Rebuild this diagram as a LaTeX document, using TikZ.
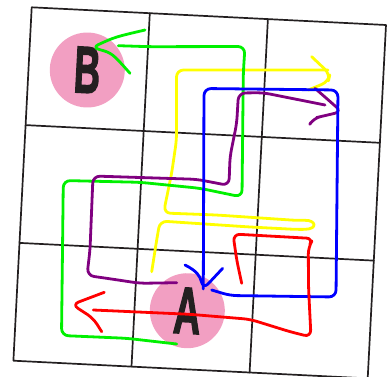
\documentclass[tikz,border=0pt]{standalone}
\usepackage{fontspec}
\usepackage{graphicx}
\newfontfamily\markfont[BoldFeatures={FakeBold=2.5}]{Liberation Sans}
\definecolor{inkblack}{HTML}{231F20}
\definecolor{spotpink}{HTML}{F29FC2}
\definecolor{routegreen}{HTML}{00F000}
\definecolor{routeyellow}{HTML}{FFFF00}
\definecolor{routeblue}{HTML}{0000FF}
\definecolor{routepurple}{HTML}{800080}
\definecolor{routered}{HTML}{FF0000}
\tikzset{
  cellline/.style={draw=inkblack, line width=1.7pt, line cap=round, line join=round},
  route/.style={line width=2.8pt, line cap=round, line join=round, rounded corners=7pt},
  spot/.style={circle, fill=spotpink, minimum size=75pt, inner sep=0pt, text=inkblack,
    font=\markfont\bfseries\fontsize{66}{66}\selectfont},
}

\begin{document}
\begin{tikzpicture}[x=1pt, y=-1pt]
\useasboundingbox (0,0) rectangle (392,376);
\clip (0,0) rectangle (392,376);
% the tilted 3x3 board
\begin{scope}[shift={(31.7,7.3)}, x={(118.1pt,-5.9pt)}, y={(-6.1pt,-117.8pt)}]
  \draw[cellline] (0,0) -- (3,0) -- (3,3) -- (0,3) -- cycle;
  \foreach \k in {1,2} {
    \draw[cellline] (\k,0) -- (\k,3);
    \draw[cellline] (0,\k) -- (3,\k);
  }
\end{scope}
% start and goal
\node[spot, rotate=-3] (spotB) at (87.3,70) {\scalebox{0.55}[1]{B}};
\node[spot, rotate=-3] (spotA) at (187.3,310.7) {\scalebox{0.57}[1]{A}};
% yellow route
\draw[route, routeyellow] (151.7,271.7) -- (157,238) -- (160,221) -- (250,227)
  -- (298,229.5) .. controls (318,229) and (316,220) .. (298,220.5)
  -- (216.7,215) -- (163.5,213) -- (171.7,173) -- (176.5,140) -- (176.5,70) -- (328,70);
\draw[route, routeyellow] (311.7,56.7) -- (330,74) -- (328.3,81.7) -- (308.3,90);
% green route
\draw[route, routegreen] (176.7,344) -- (126.7,338.3) -- (61.5,335.5) -- (62.5,250)
  -- (63.3,180.5) -- (140,182.3) -- (200,188.3) -- (242,197) -- (243.3,73)
  -- (245,46.5) -- (150,46.7) -- (118.3,45.7);
\draw[route, routegreen] (145,30) .. controls (115,37) .. (92,47.5)
  .. controls (112,53) .. (130,73.3);
% purple route
\draw[route, routepurple] (176.7,282.7) -- (140,283.3) -- (106.7,278.3) -- (87,275.5)
  -- (90,250) -- (93,176) -- (196.7,179.3) -- (229,185.5) -- (230,156.7)
  -- (236.7,123.3) -- (238.5,93) -- (263.3,92.7) -- (325,105);
\draw[route, routepurple] (315,88.3) -- (341.7,111.7) -- (323.3,116) -- (313.3,118.3)
  -- (310.7,122.7);
% blue route
\draw[route, routeblue] (211.7,290) -- (230,295.5) -- (336,297) -- (338,90)
  -- (204,88.5) -- (203.3,289);
\draw[route, routeblue] (185,265) .. controls (197,271) and (200,276) .. (203.3,289)
  -- (222.7,268.3);
% red route
\draw[route, routered] (241.7,283.3) -- (236.7,260) -- (233,234) -- (313.5,238.5)
  -- (308.3,247) -- (308.5,287) -- (311,337) -- (290,331.7) -- (250,319.3)
  -- (190,314.3) -- (93.3,310);
\draw[route, routered] (104.3,292.3) -- (72,304.5) -- (93.3,318.3) -- (101.7,331.7);
\end{tikzpicture}
\end{document}
